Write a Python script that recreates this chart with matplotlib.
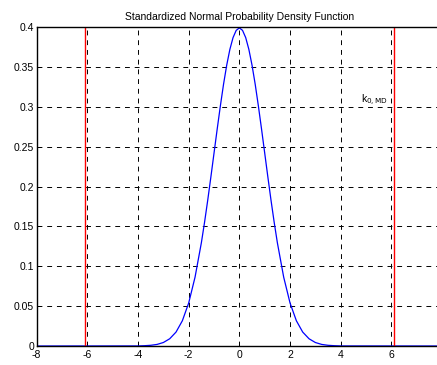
import matplotlib
matplotlib.use("Agg")
import matplotlib.pyplot as plt

# standard normal density
x_vals = [-8.0, -4.0, -3.75, -3.5, -3.25, -3.0, -2.75, -2.5, -2.25, -2.0, -1.75, -1.5,
          -1.375, -1.25, -1.125, -1.0, -0.875, -0.75, -0.625, -0.5, -0.375, -0.25, -0.125,
          0.0, 0.125, 0.25, 0.375, 0.5, 0.625, 0.75, 0.875, 1.0, 1.125, 1.25, 1.375,
          1.5, 1.75, 2.0, 2.25, 2.5, 2.75, 3.0, 3.25, 3.5, 3.75, 4.0, 8.0]
pdf_vals = [0.0, 0.0001, 0.0004, 0.0009, 0.0020, 0.0044, 0.0091, 0.0175, 0.0317, 0.0540,
            0.0863, 0.1295, 0.1550, 0.1826, 0.2119, 0.2420, 0.2721, 0.3011, 0.3282,
            0.3521, 0.3719, 0.3867, 0.3958, 0.3989, 0.3958, 0.3867, 0.3719, 0.3521,
            0.3282, 0.3011, 0.2721, 0.2420, 0.2119, 0.1826, 0.1550, 0.1295, 0.0863,
            0.0540, 0.0317, 0.0175, 0.0091, 0.0044, 0.0020, 0.0009, 0.0004, 0.0001, 0.0]
limit_x = [-6.1, 6.1]
x_ticks = [-8, -6, -4, -2, 0, 2, 4, 6]
y_ticks = [0, 0.05, 0.1, 0.15, 0.2, 0.25, 0.3, 0.35, 0.4]
y_labels = ["0", "0.05", "0.1", "0.15", "0.2", "0.25", "0.3", "0.35", "0.4"]

plt.rcParams['font.family'] = ['Liberation Sans', 'DejaVu Sans']
plt.rcParams['font.size'] = 7.5
plt.rcParams['axes.unicode_minus'] = False

fig = plt.figure(figsize=(4.37, 3.65), dpi=100)
ax = fig.add_axes([0.084, 0.052, 0.9275, 0.874])

ax.plot(x_vals, pdf_vals, color=(0, 0, 1), lw=0.9)
for xv in limit_x:
    ax.axvline(xv, color=(1, 0, 0), lw=1.0)

ax.text(4.8, 0.305, r"k$_{\mathrm{0,MD}}$", fontsize=7.5)

ax.set_xlim(-8, 8)
ax.set_ylim(0, 0.4)
ax.set_xticks(x_ticks)
ax.set_yticks(y_ticks)
ax.set_yticklabels(y_labels)
ax.tick_params(direction='in', length=3, width=0.7, colors='black', pad=2)
ax.tick_params(axis='x', pad=3)
ax.grid(True, color='black', linestyle=(0, (5, 5)), lw=0.7)
ax.axvline(8, color='black', linestyle=(0, (5, 5)), lw=0.7)
for s in ax.spines.values():
    s.set_linewidth(1.0)
ax.spines['right'].set_visible(False)

ax.set_title("Standardized Normal Probability Density Function", fontsize=7.5, pad=5)

fig.savefig("out.png", dpi=100)
